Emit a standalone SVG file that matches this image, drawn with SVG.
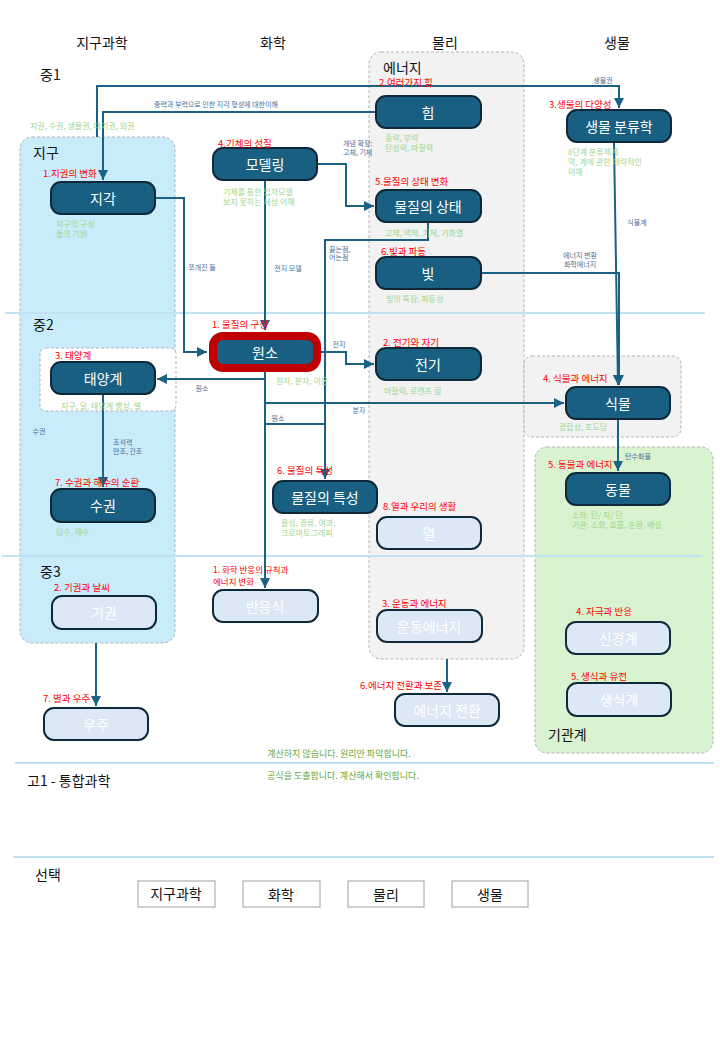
<svg xmlns="http://www.w3.org/2000/svg" width="720" height="1040" viewBox="0 0 720 1040">
<style>
text{font-family:"Noto Sans CJK KR","Noto Sans",sans-serif;dominant-baseline:central}
.hd{font-size:14px;fill:#111}
.nd rect{fill:#185f82;stroke:#0e2a3a;stroke-width:2}
.nd text{font-size:14px;fill:#fff;text-anchor:middle}
.lt rect{fill:#dce8f6;stroke:#0e2a3a;stroke-width:2}
.lt text{font-size:14px;fill:#fff;text-anchor:middle}
.rd{font-size:9.5px;fill:#ff0000}
.rs{font-size:8.5px;fill:#ff0000}
.gr{font-size:8px;fill:#9fd68a}
.cl{font-size:7px;fill:#4a6f98}
.cm{text-anchor:middle}
.note{font-size:9px;fill:#63a83b;text-anchor:middle}
.sep{stroke:#bfe3f3;stroke-width:2}
.cont{stroke:#b3b3b3;stroke-width:1;stroke-dasharray:3,2}
.edge{fill:none;stroke:#1b6184;stroke-width:2}
.sel rect{fill:#fff;stroke:#a0a0a0;stroke-width:1}
.sel text{font-size:14px;fill:#111;text-anchor:middle}
</style>
<defs>
<marker id="ar" markerUnits="userSpaceOnUse" markerWidth="10" markerHeight="10" refX="10" refY="5" orient="auto">
<path d="M0,0 L10,5 L0,10 z" fill="#1b6184"/>
</marker>
</defs>

<!-- containers -->
<g id="containers">
<rect class="cont" x="20" y="137" width="155" height="506" rx="12" fill="#c9ecfb"/>
<rect class="cont" x="369" y="52" width="155" height="607" rx="12" fill="#f2f2f2"/>
<rect class="cont" x="524" y="356" width="157" height="81" rx="8" fill="#f2f2f2"/>
<rect class="cont" x="535" y="447" width="178" height="306" rx="12" fill="#d9f2d0"/>
<rect class="cont" x="40" y="348" width="136" height="63" rx="6" fill="#ffffff"/>
</g>

<!-- separators -->
<g id="separators">
<line class="sep" x1="5" y1="313" x2="705" y2="313"/>
<line class="sep" x1="2" y1="556" x2="701" y2="556"/>
<line class="sep" x1="15" y1="763" x2="714" y2="763"/>
<line class="sep" x1="13" y1="857" x2="714" y2="857"/>
</g>

<!-- headers -->
<g id="headers">
<text class="hd" x="102" y="42" text-anchor="middle">지구과학</text>
<text class="hd" x="273" y="42" text-anchor="middle">화학</text>
<text class="hd" x="445" y="42" text-anchor="middle">물리</text>
<text class="hd" x="617" y="42" text-anchor="middle">생물</text>
<text class="hd" x="40" y="74">중1</text>
<text class="hd" x="33" y="152">지구</text>
<text class="hd" x="383" y="67">에너지</text>
<text class="hd" x="33" y="324">중2</text>
<text class="hd" x="40" y="571">중3</text>
<text class="hd" x="548" y="734">기관계</text>
<text class="hd" x="27" y="780">고1 - 통합과학</text>
<text class="hd" x="35" y="874">선택</text>
</g>

<!-- connectors -->
<g id="connectors">
<path class="edge" d="M97,137 V86 H619 V108" marker-end="url(#ar)"/>
<path class="edge" d="M376,112 H103 V180" marker-end="url(#ar)"/>
<path class="edge" d="M155,198 H184 V352 H207" marker-end="url(#ar)"/>
<path class="edge" d="M265,180 V330" marker-end="url(#ar)"/>
<path class="edge" d="M317,164 H346 V206 H374" marker-end="url(#ar)"/>
<path class="edge" d="M428,222 V240 H325 V479" marker-end="url(#ar)"/>
<path class="edge" d="M481,273 H619 V385" marker-end="url(#ar)"/>
<path class="edge" d="M614,143 L618,385" marker-end="url(#ar)"/>
<path class="edge" d="M265,372 V379 H157" marker-end="url(#ar)"/>
<path class="edge" d="M321,352 H346 V364 H374" marker-end="url(#ar)"/>
<path class="edge" d="M265,372 V403 H564" marker-end="url(#ar)"/>
<path class="edge" d="M265,424 H325"/>
<path class="edge" d="M265,372 V588" marker-end="url(#ar)"/>
<path class="edge" d="M103,394 V487" marker-end="url(#ar)"/>
<path class="edge" d="M96,643 V706" marker-end="url(#ar)"/>
<path class="edge" d="M447,659 V692" marker-end="url(#ar)"/>
<path class="edge" d="M618,419 V471" marker-end="url(#ar)"/>
</g>

<!-- connector labels -->
<g id="edge-labels">
<text class="cl cm" x="603" y="80">생물권</text>
<text class="cl cm" x="216" y="104">중력과 부력으로 인한 지각 형성에 대한이해</text>
<text class="cl cm" x="202" y="267">쪼개진 돌</text>
<text class="cl cm" x="288" y="268">전지 모델</text>
<text class="cl" x="343" y="143">개념 확장:</text>
<text class="cl" x="343" y="152">고체, 기체</text>
<text class="cl" x="329" y="249">끓는점,</text>
<text class="cl" x="329" y="257">어는점</text>
<text class="cl cm" x="637" y="222">식물계</text>
<text class="cl cm" x="580" y="255">에너지 변환</text>
<text class="cl cm" x="580" y="264">화학에너지</text>
<text class="cl cm" x="202" y="388">원소</text>
<text class="cl cm" x="339" y="344">전지</text>
<text class="cl cm" x="359" y="410">분자</text>
<text class="cl cm" x="278" y="418">원소</text>
<text class="cl" x="113" y="442">조석력</text>
<text class="cl" x="113" y="451">만조, 간조</text>
<text class="cl cm" x="39" y="431">수권</text>
<text class="cl cm" x="638" y="456">탄수화물</text>
</g>

<!-- nodes -->
<g id="n-jigak" class="nd"><rect x="51" y="182" width="104" height="32" rx="10"/><text x="103" y="198">지각</text></g>
<g id="n-modeling" class="nd"><rect x="213" y="148" width="104" height="32" rx="10"/><text x="265" y="164">모델링</text></g>
<g id="n-him" class="nd"><rect x="376" y="96" width="105" height="32" rx="10"/><text x="428" y="112">힘</text></g>
<g id="n-state" class="nd"><rect x="376" y="190" width="105" height="32" rx="10"/><text x="428" y="206">물질의 상태</text></g>
<g id="n-light" class="nd"><rect x="376" y="257" width="105" height="32" rx="10"/><text x="428" y="273">빛</text></g>
<g id="n-taxonomy" class="nd"><rect x="567" y="110" width="104" height="32" rx="10"/><text x="619" y="126">생물 분류학</text></g>
<g id="n-element" class="nd"><rect x="213" y="336" width="104" height="32" rx="10" style="stroke:#c00000;stroke-width:8"/><text x="265" y="352">원소</text></g>
<g id="n-elec" class="nd"><rect x="376" y="348" width="105" height="32" rx="10"/><text x="428" y="364">전기</text></g>
<g id="n-solar" class="nd"><rect x="51" y="362" width="104" height="32" rx="10"/><text x="103" y="378">태양계</text></g>
<g id="n-plant" class="nd"><rect x="566" y="387" width="104" height="32" rx="10"/><text x="618" y="403">식물</text></g>
<g id="n-hydro" class="nd"><rect x="51" y="489" width="104" height="33" rx="10"/><text x="103" y="505">수권</text></g>
<g id="n-prop" class="nd"><rect x="273" y="481" width="104" height="32" rx="10"/><text x="325" y="497">물질의 특성</text></g>
<g id="n-animal" class="nd"><rect x="566" y="473" width="104" height="32" rx="10"/><text x="618" y="489">동물</text></g>
<g id="n-heat" class="lt"><rect x="377" y="517" width="104" height="32" rx="10"/><text x="429" y="533">열</text></g>
<g id="n-atmos" class="lt"><rect x="52" y="596" width="104" height="33" rx="10"/><text x="104" y="612">기권</text></g>
<g id="n-reaction" class="lt"><rect x="213" y="590" width="105" height="32" rx="10"/><text x="265" y="606">반응식</text></g>
<g id="n-space" class="lt"><rect x="44" y="708" width="104" height="32" rx="10"/><text x="96" y="724">우주</text></g>
<g id="n-kinetic" class="lt"><rect x="377" y="610" width="105" height="32" rx="10"/><text x="429" y="626">운동에너지</text></g>
<g id="n-conv" class="lt"><rect x="395" y="694" width="104" height="32" rx="10"/><text x="447" y="710">에너지 전환</text></g>
<g id="n-nerve" class="lt"><rect x="566" y="622" width="104" height="32" rx="10"/><text x="618" y="638">신경계</text></g>
<g id="n-repro" class="lt"><rect x="567" y="683" width="104" height="33" rx="10"/><text x="619" y="699">생식계</text></g>

<!-- red section labels -->
<g id="section-labels">
<text class="rd" x="43" y="173">1.지권의 변화</text>
<text class="rd" x="218" y="143">4.기체의 성질</text>
<text class="rd" x="379" y="82">2.여러가지 힘</text>
<text class="rd" x="375" y="181">5.물질의 상태 변화</text>
<text class="rd" x="381" y="251">6.빛과 파동</text>
<text class="rd" x="549" y="104">3.생물의 다양성</text>
<text class="rd" x="212" y="324">1. 물질의 구성</text>
<text class="rd" x="383" y="342">2. 전기와 자기</text>
<text class="rd" x="55" y="355">3. 태양계</text>
<text class="rd" x="543" y="378">4. 식물과 에너지</text>
<text class="rd" x="548" y="464">5. 동물과 에너지</text>
<text class="rd" x="277" y="470">6. 물질의 특성</text>
<text class="rd" x="383" y="506">8.열과 우리의 생활</text>
<text class="rd" x="55" y="482">7. 수권과 해수의 순환</text>
<text class="rd" x="54" y="587">2. 기권과 날씨</text>
<text class="rs" x="213" y="569">1. 화학 반응의 규칙과</text>
<text class="rs" x="213" y="581">에너지 변화</text>
<text class="rd" x="43" y="698">7. 별과 우주</text>
<text class="rd" x="382" y="603">3. 운동과 에너지</text>
<text class="rd" x="360" y="685">6.에너지 전환과 보존</text>
<text class="rd" x="576" y="611">4. 자극과 반응</text>
<text class="rd" x="571" y="676">5. 생식과 유전</text>
</g>

<!-- green descriptions -->
<g id="descriptions">
<text class="gr" x="30" y="125">지권, 수권, 생물권, 대기권, 외권</text>
<text class="gr" x="56" y="223">지구의 구성</text>
<text class="gr" x="56" y="233">돌의 기원</text>
<text class="gr" x="223" y="191">기체를 통한 입자모델</text>
<text class="gr" x="223" y="201">보지 못하는 세상 이해</text>
<text class="gr" x="385" y="137">중력, 부력</text>
<text class="gr" x="385" y="147">탄성력, 마찰력</text>
<text class="gr" x="385" y="232">고체, 액체, 기체, 기화열</text>
<text class="gr" x="386" y="298">빛의 특징: 파동성</text>
<text class="gr" x="568" y="151">8단계 분류체계</text>
<text class="gr" x="568" y="161">역, 계에 관한 대략적인</text>
<text class="gr" x="568" y="171">이해</text>
<text class="gr" x="276" y="380">원자, 분자, 이온</text>
<text class="gr" x="384" y="390">마찰력, 로렌츠 힘</text>
<text class="gr" x="61" y="405">지구, 달, 태양계 행성, 별</text>
<text class="gr" x="559" y="426">광합성, 포도당</text>
<text class="gr" x="572" y="514">소화: 탄/ 지/ 단</text>
<text class="gr" x="572" y="524">기관: 소화, 호흡, 순환, 배설</text>
<text class="gr" x="281" y="522">물성, 증류, 여과,</text>
<text class="gr" x="281" y="532">크로마토그래피</text>
<text class="gr" x="56" y="531">담수, 해수</text>
</g>

<!-- notes -->
<g id="notes">
<text class="note" x="339" y="753">계산하지 않습니다. 원리만 파악합니다.</text>
<text class="note" x="343" y="775">공식을 도출합니다. 계산해서 확인합니다.</text>
</g>

<!-- selection boxes -->
<g id="s-earth" class="sel"><rect x="138" y="881" width="77" height="26"/><text x="176" y="893">지구과학</text></g>
<g id="s-chem" class="sel"><rect x="243" y="881" width="77" height="26"/><text x="281" y="894">화학</text></g>
<g id="s-phys" class="sel"><rect x="348" y="881" width="76" height="26"/><text x="386" y="894">물리</text></g>
<g id="s-bio" class="sel"><rect x="452" y="881" width="76" height="26"/><text x="490" y="894">생물</text></g>
</svg>
